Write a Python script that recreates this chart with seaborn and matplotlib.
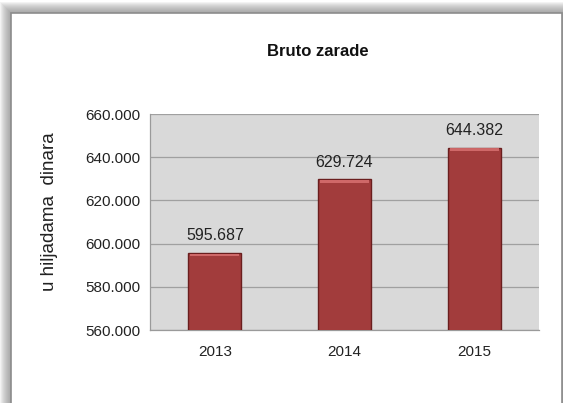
import matplotlib
matplotlib.use("Agg")
import matplotlib.pyplot as plt
import matplotlib.patches as mpatches
from matplotlib.ticker import FuncFormatter, FixedLocator
import seaborn as sns
import pandas as pd

# ---- data ----
years = ["2013", "2014", "2015"]
values = [595.687, 629.724, 644.382]
title = "Bruto zarade"
ylabel = "u hiljadama  dinara"
y_ticks = [560, 580, 600, 620, 640, 660]

df = pd.DataFrame({"year": years, "value": values})

sns.set_theme(style="white")
plt.rcParams["font.family"] = ["Liberation Sans", "DejaVu Sans"]

W, H = 563, 403
fig = plt.figure(figsize=(W / 100, H / 100), dpi=100)
fig.patch.set_facecolor("white")

# frame with soft shadow (top and left)
for i in range(11, 0, -1):
    fig.patches.append(mpatches.Rectangle(((11 - i) / W, 0), (W + 20) / W, (H - 13 + i) / H,
                                          transform=fig.transFigure, facecolor=(0.5, 0.5, 0.5, 0.09),
                                          edgecolor="none", zorder=0))
fig.patches.append(mpatches.Rectangle((11 / W, -0.1), (W - 11 - 1) / W, (H - 13) / H + 0.1,
                                      transform=fig.transFigure, facecolor="white",
                                      edgecolor="#8C8C8C", linewidth=1.2, zorder=1))

ax = fig.add_axes([150 / W, 1 - 330 / H, (539 - 150) / W, (330 - 114) / H])
ax.set_zorder(2)
ax.set_facecolor("#D9D9D9")

sns.barplot(data=df, x="year", y="value", ax=ax, color="#A23C3C", width=0.41,
            edgecolor="#6A1E1E", linewidth=1.0, saturation=1, zorder=3)

# subtle bevel highlight along the top of each bar (derived from the bar patches)
for p in list(ax.patches):
    x0, w, top = p.get_x(), p.get_width(), p.get_y() + p.get_height()
    ax.add_patch(mpatches.Rectangle((x0 + w * 0.04, top - 1.6), w * 0.92, 1.3,
                                    facecolor="#D56E6E", edgecolor="none", zorder=4, alpha=0.9))

ax.set_ylim(560, 660)
ax.set_xlim(-0.5, 2.5)
ax.yaxis.set_major_locator(FixedLocator(y_ticks))
ax.yaxis.set_major_formatter(FuncFormatter(lambda v, p: f"{v:.3f}"))
ax.grid(axis="y", color="#A0A0A0", linewidth=0.9, zorder=0)
ax.set_axisbelow(True)

for s in ["top", "right"]:
    ax.spines[s].set_visible(False)
for s in ["left", "bottom"]:
    ax.spines[s].set_color("#9A9A9A")
    ax.spines[s].set_linewidth(0.9)

ax.tick_params(axis="y", length=4, color="#9A9A9A", labelsize=11, pad=3, labelcolor="#222222")
ax.tick_params(axis="x", which="major", length=0, labelsize=11, pad=11, labelcolor="#222222")
ax.set_xticks([-0.5, 0.5, 1.5, 2.5], minor=True)
ax.tick_params(axis="x", which="minor", length=5, color="#9A9A9A", direction="out")

ax.set_xlabel("")
ax.set_ylabel(ylabel, fontsize=13.5, color="#222222")
ax.yaxis.set_label_coords(-0.237, 0.546)

for c in ax.containers:
    ax.bar_label(c, labels=[f"{v:.3f}" for v in values], padding=7, fontsize=11.5, color="#222222")

fig.text(318 / W, 1 - 51 / H, title, ha="center", va="center", fontsize=12, fontweight="bold",
         color="#111111")

fig.savefig("out.png", dpi=100, facecolor="white")
